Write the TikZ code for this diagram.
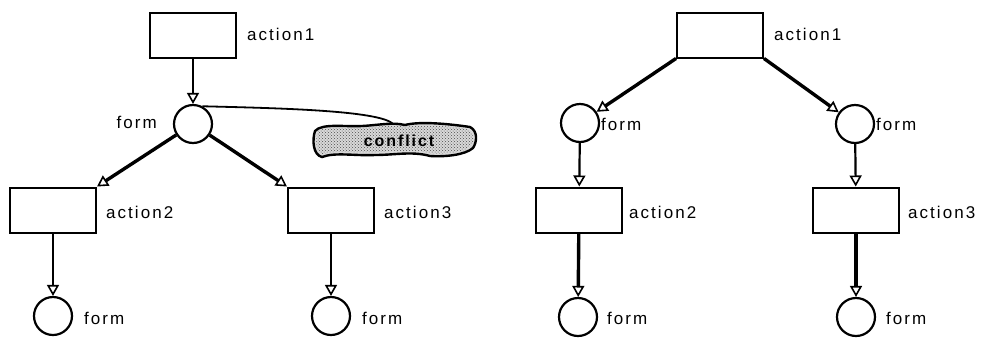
\documentclass[tikz,border=0pt]{standalone}
\usepackage{fontspec}
\setmainfont{Liberation Sans}[LetterSpace=12]
\usetikzlibrary{arrows.meta,patterns}
\begin{document}
\begin{tikzpicture}[x=1pt,y=-1pt,
  trans/.style={draw,line width=2pt,minimum width=86pt,minimum height=45pt,inner sep=0pt},
  place/.style={draw,circle,line width=2.2pt,minimum size=38pt,inner sep=0pt},
  lbl/.style={font=\fontsize{17}{17}\selectfont,inner sep=0pt},
  tip/.style={-{Triangle[open,length=11pt,width=12pt,line width=1.6pt]}},
  arc/.style={line width=2.2pt,tip},
  heavyarc/.style={line width=3.4pt,tip}]
\useasboundingbox (0,0) rectangle (981,338);

% ---- net with a shared place ----
\node[trans] (a1) at (193,35) {};
\node[place] (f0) at (193,124) {};
\node[trans] (a2) at (53,210) {};
\node[trans] (a3) at (331,210) {};
\node[place] (f1) at (53,316) {};
\node[place] (f2) at (331,316) {};

\node[lbl,anchor=west] (la1) at (247,34) {action1};
\node[lbl,anchor=east] (lf0) at (157,122) {form};
\node[lbl,anchor=west] (la2) at (106,212) {action2};
\node[lbl,anchor=west] (la3) at (384,212) {action3};
\node[lbl,anchor=west] (lf1) at (84,318) {form};
\node[lbl,anchor=west] (lf2) at (362,318) {form};

\draw[arc] (a1) -- (f0);
\draw[heavyarc] (f0) -- (a2.north east);
\draw[heavyarc] (f0) -- (a3.north west);
\draw[arc] (a2) -- (f1);
\draw[arc] (a3) -- (f2);

% conflict marker
\draw[line width=2.4pt,fill=gray!30]
  (315,131) .. controls (322,123) and (345,127) .. (362,126)
  .. controls (380,125) and (392,122) .. (405,125)
  .. controls (420,121) and (450,124) .. (470,127)
  .. controls (478,131) and (477,142) .. (473,148)
  .. controls (465,155) and (445,157) .. (430,156)
  .. controls (412,151) and (395,155) .. (375,155)
  .. controls (355,156) and (335,152) .. (322,157)
  .. controls (313,155) and (312,140) .. (315,131) -- cycle;
\fill[pattern=crosshatch dots,pattern color=gray!60!black]
  (318,131) .. controls (325,126) and (345,129) .. (362,128)
  .. controls (380,127) and (392,124) .. (405,127)
  .. controls (420,124) and (450,126) .. (468,129)
  .. controls (475,133) and (474,142) .. (471,146)
  .. controls (463,153) and (445,154) .. (430,153)
  .. controls (412,149) and (395,152) .. (375,152)
  .. controls (355,153) and (335,150) .. (322,154)
  .. controls (316,152) and (315,140) .. (318,131) -- cycle;
\node[font=\fontsize{16}{16}\selectfont\bfseries,inner sep=0pt] (conf) at (399,141) {conflict};
\coordinate (cfl) at (393,124);
\draw[line width=1.8pt] (f0.62) .. controls (270,108) and (380,110) .. (cfl);

% ---- net with separate places ----
\node[trans] (b1) at (720,35) {};
\node[place] (g1) at (580,123) {};
\node[place] (g2) at (855,124) {};
\node[trans] (b2) at (579,210) {};
\node[trans] (b3) at (856,210) {};
\node[place] (h1) at (578,317) {};
\node[place] (h2) at (856,317) {};

\node[lbl,anchor=west] (lb1) at (774,34) {action1};
\node[lbl,anchor=west] (lg1) at (601,124) {form};
\node[lbl,anchor=west] (lg2) at (876,124) {form};
\node[lbl,anchor=west] (lb2) at (629,212) {action2};
\node[lbl,anchor=west] (lb3) at (908,212) {action3};
\node[lbl,anchor=west] (lh1) at (607,318) {form};
\node[lbl,anchor=west] (lh2) at (886,318) {form};

\draw[heavyarc] (b1.south west) -- (g1);
\draw[heavyarc] (b1.south east) -- (g2);
\draw[arc] (g1) -- (b2);
\draw[arc] (g2) -- (b3);
\draw[heavyarc] (b2) -- (h1);
\draw[heavyarc] (b3) -- (h2);
\end{tikzpicture}
\end{document}
